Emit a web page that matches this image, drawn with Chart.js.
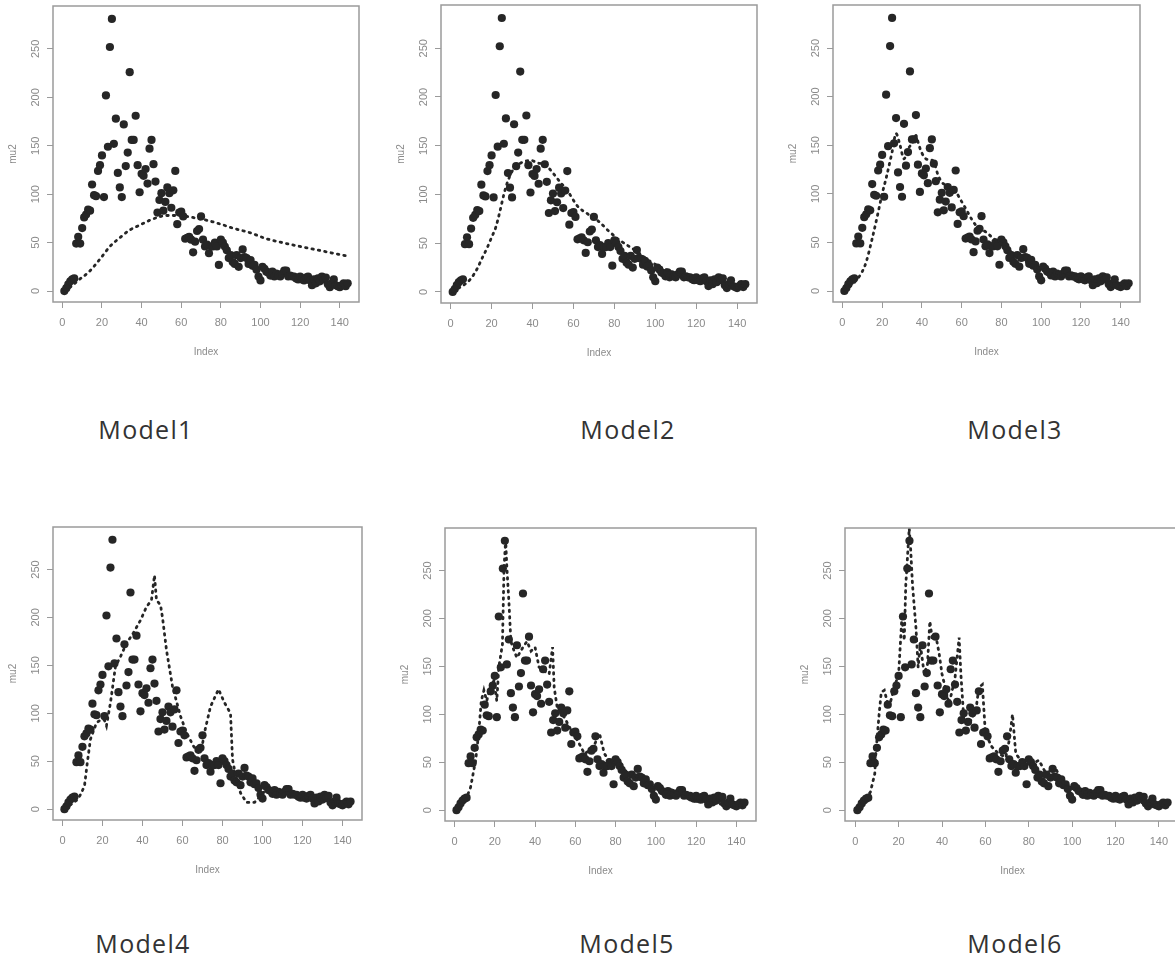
<!DOCTYPE html>
<html>
<head>
<meta charset="utf-8">
<script src="https://cdn.jsdelivr.net/npm/chart.js@4.4.1/dist/chart.umd.min.js"></script>
<style>
  body { margin: 0; background: #fff; width: 1175px; height: 957px; overflow: hidden; position: relative; }
  canvas { position: absolute; }
  .model { position: absolute; font: 25px "Open Sans", sans-serif; letter-spacing: 1.3px; color: #333; transform: translate(-50%, -50%); white-space: nowrap; }
</style>
</head>
<body>
<script>
// observed series, same in every panel (index 1..144)
const mu2 = [
  0, 3, 7, 10, 12, 13, 49, 56, 49, 65,
  76, 79, 84, 83, 110, 99, 98, 124, 130, 140,
  97, 202, 149, 252, 281, 152, 178, 122, 107, 97,
  172, 129, 143, 226, 156, 156, 181, 130, 102, 121,
  119, 126, 111, 147, 156, 131, 113, 81, 94, 101,
  83, 92, 107, 101, 86, 104, 124, 69, 81, 82,
  77, 54, 55, 56, 53, 40, 51, 62, 64, 77,
  53, 46, 48, 39, 46, 46, 50, 46, 27, 53,
  50, 46, 42, 34, 37, 30, 28, 37, 25, 34,
  43, 35, 34, 28, 32, 26, 27, 22, 15, 11,
  25, 23, 20, 19, 16, 20, 15, 18, 16, 15,
  18, 21, 21, 15, 16, 15, 15, 13, 12, 15,
  12, 11, 14, 15, 11, 6, 12, 8, 13, 10,
  15, 12, 14, 7, 4, 8, 12, 6, 5, 4,
  6, 8, 5, 8
];
const index = mu2.map((v, i) => i + 1);

const xTicks = [0, 20, 40, 60, 80, 100, 120, 140];
const yTicks = [0, 50, 100, 150, 200, 250];

// fitted curves
const model1X = [1, 4, 8, 13.5, 19, 24, 29, 34, 39, 44, 48, 52, 57, 63, 68, 73, 80, 86, 95, 103, 111, 120, 132, 144];
const model1Y = [0, 4, 11, 20, 33, 46, 55, 63, 68, 73, 76, 78, 78, 77, 75, 73, 69, 65, 60, 54, 50, 46, 41, 36];

const model2X = [1, 3, 7, 10, 13, 15, 18, 20, 22, 24, 26, 28, 31, 35, 39, 43, 46, 48, 50, 53, 57, 62, 67, 72, 77, 82, 87, 92, 97, 102, 110, 118, 126, 135, 144];
const model2Y = [1, 3, 8, 14, 24, 33, 46, 56, 66, 82, 100, 114, 127, 133, 135, 132, 131, 127, 122, 114, 104, 88, 80, 73, 63, 54, 47, 40, 32, 26, 19, 14, 11, 8, 6];

const model3X = [1, 4, 7, 10, 12, 15, 18, 20, 22, 25, 27, 29, 31, 33, 35, 37, 38.5, 40, 42, 44, 46, 48, 50, 52, 55, 57, 60, 62, 65, 67, 70, 72, 76, 79, 85, 90, 96, 101, 106, 112, 119, 127, 136, 144];
const model3Y = [1, 5, 11, 20, 30, 54, 81, 100, 116, 143, 162, 150, 136, 146, 152, 160, 150, 142, 136, 135, 133, 120, 112, 109, 105, 102, 92, 85, 74, 68, 63, 61, 54, 50, 40, 33, 26, 22, 20, 16, 13, 10, 8, 6];

const model4X = [1, 3, 5, 7.5, 9, 11, 12.4, 14, 17, 19, 21, 22, 24, 26.5, 29, 32, 35.5, 39, 42, 44.5, 46, 47, 49, 50, 52, 55, 59, 62, 65.4, 68, 69.5, 71, 74, 78, 81, 84, 85, 87, 89, 92, 96, 99, 102, 107, 112, 120, 127, 135, 144];
const model4Y = [1, 3, 6, 10, 15, 24, 48, 73, 90, 93, 93, 87, 111, 149, 159, 173, 184, 197, 211, 218, 244, 218, 213, 200, 166, 128, 97, 80, 66, 59, 62, 80, 107, 125, 111, 100, 52, 30, 17, 7, 7, 14, 21, 19, 17, 13, 10, 8, 7];

const model5X = [1, 3, 5.5, 8, 10.5, 12, 13.3, 14.6, 16, 18, 19.6, 21, 22, 23.8, 24.6, 25.4, 26, 27, 28, 29.6, 31, 34, 36, 38, 40, 42, 44.5, 47, 48.7, 49.5, 51, 54.5, 58, 61, 64.5, 67, 69, 72, 74.4, 78, 84, 91, 98, 103, 108, 117.6, 127.6, 135, 144];
const model5Y = [1, 5, 10, 24, 52, 80, 114, 125, 114, 130, 135, 114, 149, 173, 253, 282, 253, 218, 176, 166, 159, 170, 176, 166, 170, 149, 145, 142, 170, 128, 107, 97, 83, 73, 59, 62, 66, 80, 59, 48, 42, 35, 24, 22, 21, 10, 7, 6, 5];

const model6X = [1, 5, 7, 9, 9.5, 11, 12, 13.4, 15, 16.4, 18, 20, 21.5, 22.6, 23.3, 24.9, 25.6, 26.4, 28, 29, 30, 31.8, 33.3, 34.4, 35.6, 37, 38.7, 40, 41.8, 43.3, 45, 46, 47.9, 48.7, 50, 52.5, 55.6, 57, 58.6, 60, 63, 66, 69.4, 71, 72.5, 74, 78.6, 84.7, 88, 92, 97, 103, 112, 124.7, 140, 144];
const model6Y = [2, 12, 19, 38, 59, 100, 123, 125, 111, 114, 128, 142, 201, 177, 235, 294, 270, 235, 190, 149, 173, 142, 152, 197, 177, 184, 163, 142, 125, 111, 128, 138, 180, 142, 97, 90, 104, 128, 131, 80, 66, 59, 55, 73, 100, 59, 45, 52, 38, 45, 24, 21, 14, 10, 5, 5];

const modelNames = ['Model1', 'Model2', 'Model3', 'Model4', 'Model5', 'Model6'];
const fitsX = [model1X, model2X, model3X, model4X, model5X, model6X];
const fitsY = [model1Y, model2Y, model3Y, model4Y, model5Y, model6Y];

// plot boxes [left, top, right, bottom] and label centres
const boxes = [
  [53, 6, 359, 302], [441, 5, 757, 303], [833, 5, 1140, 302],
  [53, 527, 362, 820], [445, 528, 756, 821], [845, 528, 1180, 821]
];
const labelPos = [[146, 429], [628, 429], [1015, 429], [143, 943], [627, 943], [1015, 943]];

const grey = '#8a8a8a';

// R-like frame and rotated y tick labels
const rFrame = {
  id: 'rFrame',
  afterDraw(chart) {
    const { ctx, chartArea: a, scales: { y } } = chart;
    ctx.save();
    ctx.strokeStyle = '#9a9a9a';
    ctx.lineWidth = 1.5;
    ctx.strokeRect(a.left, a.top, a.right - a.left, a.bottom - a.top);
    ctx.fillStyle = grey;
    ctx.font = '11px "Liberation Sans"';
    ctx.textAlign = 'center';
    ctx.textBaseline = 'middle';
    y.ticks.forEach(t => {
      ctx.save();
      ctx.translate(a.left - 17, y.getPixelForValue(t.value));
      ctx.rotate(-Math.PI / 2);
      ctx.fillText(String(t.value), 0, 0);
      ctx.restore();
    });
    ctx.restore();
  }
};

for (let p = 0; p < 6; p++) {
  const [L, T, R, B] = boxes[p];
  const cv = document.createElement('canvas');
  cv.width = (R - L) + 68;
  cv.height = (B - T) + 68;
  cv.style.left = (L - 53) + 'px';
  cv.style.top = (T - 6) + 'px';
  document.body.appendChild(cv);

  const fit = fitsX[p].map((x, i) => ({ x: x, y: fitsY[p][i] }));
  const pts = index.map((x, i) => ({ x: x, y: mu2[i] }));
  const smooth = p < 3;

  new Chart(cv, {
    type: 'scatter',
    data: {
      datasets: [{
        type: 'line',
        data: fit,
        showLine: true,
        borderColor: '#262626',
        borderWidth: 2.8,
        borderDash: [1.5, 5],
        borderCapStyle: 'round',
        pointRadius: 0,
        fill: false,
        tension: 0,
        cubicInterpolationMode: smooth ? 'monotone' : 'default'
      }, {
        data: pts,
        pointRadius: 4.1,
        pointBackgroundColor: '#262626',
        pointBorderWidth: 0
      }]
    },
    plugins: [rFrame],
    options: {
      responsive: false,
      animation: false,
      layout: { padding: { left: 0, top: 6, right: 15, bottom: 0 } },
      plugins: { legend: { display: false }, tooltip: { enabled: false } },
      scales: {
        x: {
          type: 'linear',
          min: -4.72,
          max: 149.72,
          afterBuildTicks: s => { s.ticks = xTicks.map(v => ({ value: v })); },
          afterFit: s => { s.height = 62; },
          border: { display: false },
          grid: { drawOnChartArea: false, drawTicks: true, tickLength: 6, color: '#9a9a9a' },
          ticks: { autoSkip: false, maxRotation: 0, padding: 8, color: grey, font: { family: 'Liberation Sans', size: 11 } },
          title: { display: true, text: 'Index', color: grey, padding: { top: 0, bottom: 6 }, font: { family: 'Liberation Sans', size: 10 } }
        },
        y: {
          type: 'linear',
          min: -11.32,
          max: 294.32,
          afterBuildTicks: s => { s.ticks = yTicks.map(v => ({ value: v })); },
          afterFit: s => { s.width = 53; },
          border: { display: false },
          grid: { drawOnChartArea: false, drawTicks: true, tickLength: 6, color: '#9a9a9a' },
          ticks: { display: false },
          title: { display: true, text: 'mu2', color: grey, padding: { top: 7, bottom: 0 }, font: { family: 'Liberation Sans', size: 10 } }
        }
      }
    }
  });

  const lbl = document.createElement('div');
  lbl.className = 'model';
  lbl.textContent = modelNames[p];
  lbl.style.left = labelPos[p][0] + 'px';
  lbl.style.top = labelPos[p][1] + 'px';
  document.body.appendChild(lbl);
}
</script>
</body>
</html>
